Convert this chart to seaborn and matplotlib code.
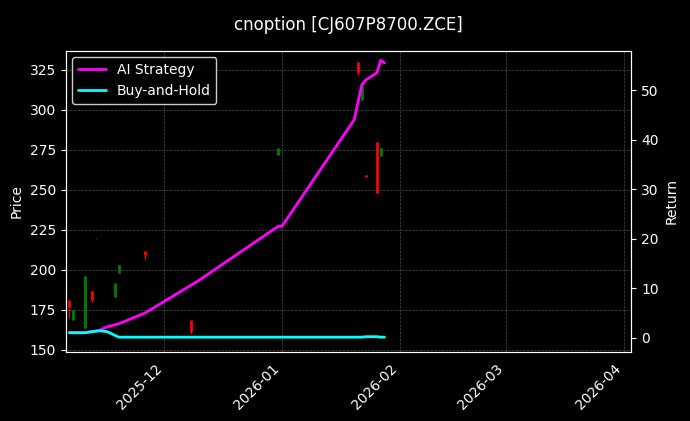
import matplotlib
matplotlib.use("Agg")
import matplotlib.pyplot as plt
import matplotlib.dates as mdates
import seaborn as sns
import pandas as pd

sns.set_style("dark")
plt.style.use("dark_background")

candle_dates = ["2025-11-06","2025-11-07","2025-11-10","2025-11-12","2025-11-13","2025-11-18","2025-11-19",
                "2025-11-26","2025-12-08","2025-12-31","2026-01-21","2026-01-22","2026-01-23","2026-01-26","2026-01-27"]
opens  = [181,169,164,187,219.5,183,198,212,169,272,330,306,259,280,271]
closes = [177,175,196,181,219,192,203,209,161,276,323,315,258,248,276]
highs  = [181,175,196,187,220,192,203,212,169,276,330,315,259,280,276]
lows   = [170,169,164,180,219,183,198,206,160,272,322,306,258,248,271]

ret_dates = ["2025-11-06","2025-11-10","2025-11-14","2025-11-16","2025-11-19","2025-11-26","2025-12-10",
             "2025-12-31","2026-01-01","2026-01-20","2026-01-22","2026-01-23","2026-01-26","2026-01-27","2026-01-28"]
ai_ret = [1.0,1.0,1.5,2.2,2.8,5.0,11.5,22.5,22.5,44,51,52,53.5,56,55.5]
bh_ret = [1.0,1.0,1.4,1.2,0.1,0.1,0.1,0.1,0.1,0.1,0.1,0.2,0.2,0.1,0.1]

cd = pd.to_datetime(candle_dates)
df_ret = pd.DataFrame({"date": pd.to_datetime(ret_dates), "ai": ai_ret, "bh": bh_ret})

fig, ax = plt.subplots(figsize=(6.9, 4.21), dpi=100)
fig.patch.set_facecolor("black")
ax.set_facecolor("black")
for d, o, c, h, l in zip(cd, opens, closes, highs, lows):
    col = "green" if c >= o else "red"
    ax.vlines(d, l, h, color=col, linewidth=0.8)
    ax.vlines(d, min(o, c), max(o, c), color=col, linewidth=2)
ax.set_ylim(149, 337)
ax.set_ylabel("Price", color="white")
ax.grid(True, color="gray", linestyle="--", linewidth=0.5, alpha=0.6)

ax2 = ax.twinx()
sns.lineplot(data=df_ret, x="date", y="ai", ax=ax2, color="magenta", linewidth=2, label="AI Strategy")
sns.lineplot(data=df_ret, x="date", y="bh", ax=ax2, color="cyan", linewidth=2, label="Buy-and-Hold")
ax2.set_ylim(-2.8, 58)
ax2.set_ylabel("Return", color="white")
ax2.set_xlabel("")
ax2.legend(loc="upper left", facecolor="black", edgecolor="white")

ax.set_xlim(pd.Timestamp("2025-11-05"), pd.Timestamp("2026-04-03"))
ax.xaxis.set_major_locator(mdates.MonthLocator())
ax.xaxis.set_major_formatter(mdates.DateFormatter("%Y-%m"))
plt.setp(ax.get_xticklabels(), rotation=45, ha="right")
ax.set_title("cnoption [CJ607P8700.ZCE]", color="white", pad=15)
fig.subplots_adjust(left=0.095, right=0.915, top=0.88, bottom=0.165)
fig.savefig("out.png", dpi=100, facecolor="black")
